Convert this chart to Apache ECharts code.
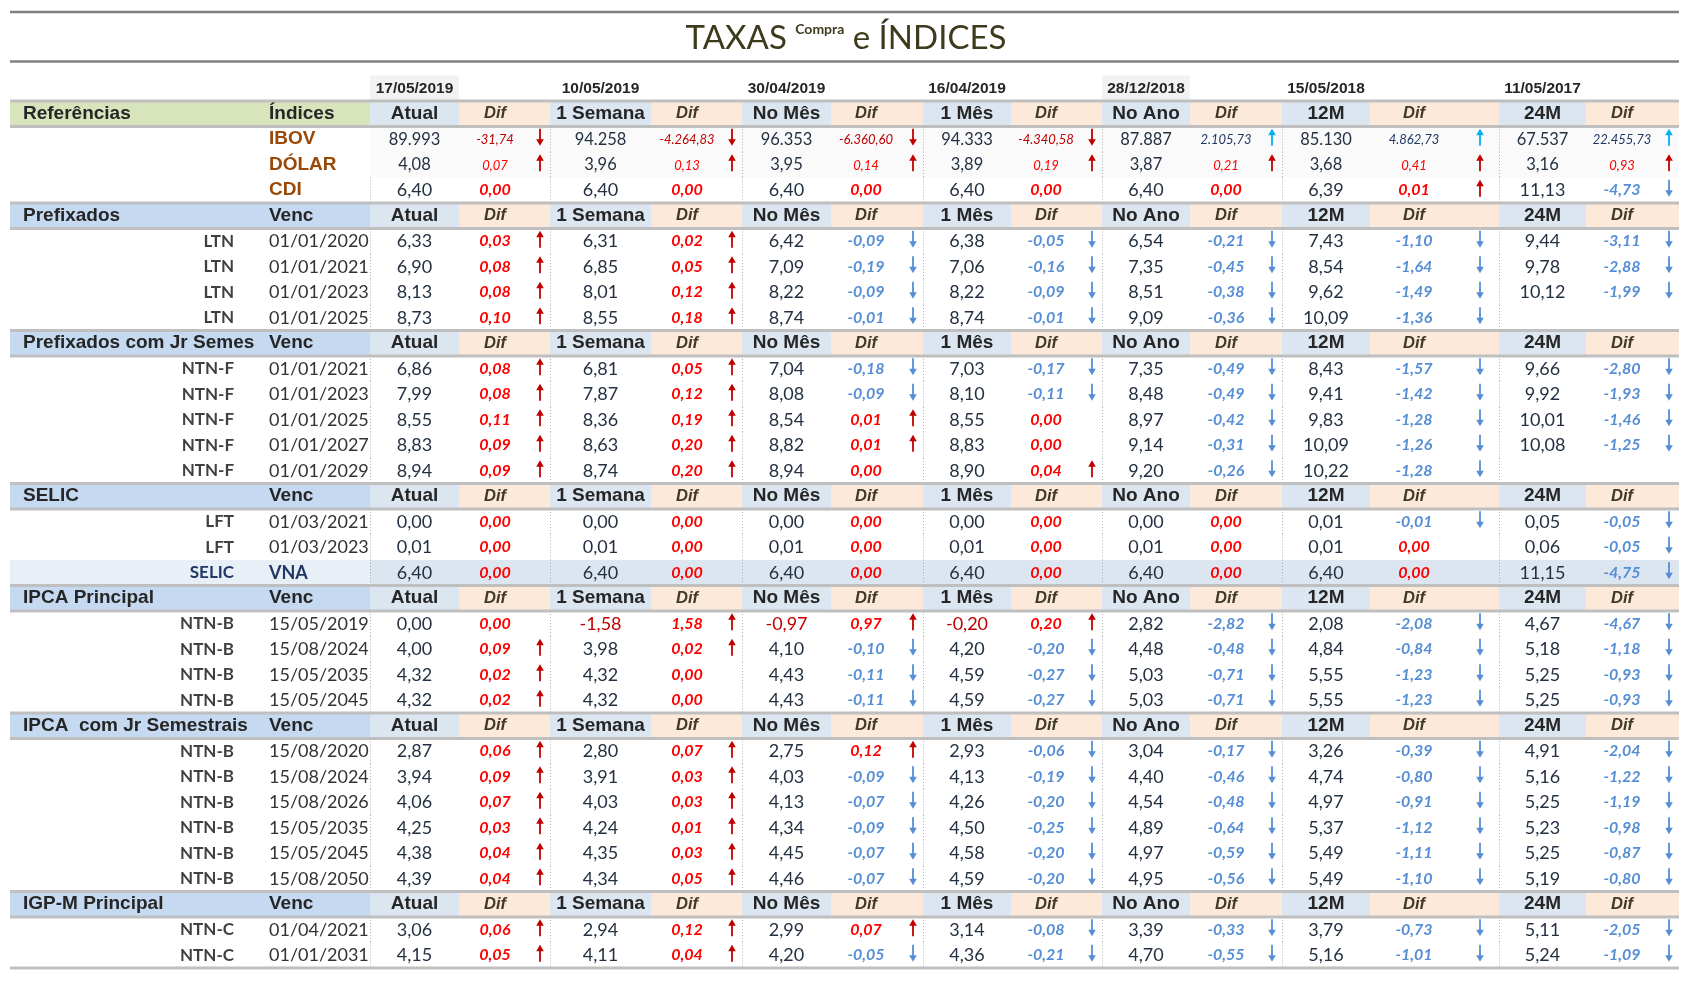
<!DOCTYPE html>
<html><head><meta charset="utf-8">
<script src="https://cdn.jsdelivr.net/npm/echarts@6/dist/echarts.min.js"></script>
<style>html,body{margin:0;padding:0;background:#fff}#c{width:1692px;height:982px}</style>
</head><body><div id="c"></div>
<script>
// ---------------- DATA ----------------
const dates = ['17/05/2019','10/05/2019','30/04/2019','16/04/2019','28/12/2018','15/05/2018','11/05/2017'];
const periods = ['Atual','1 Semana','No Mês','1 Mês','No Ano','12M','24M'];
const sectionTitles = ['Referências','Prefixados','Prefixados com Jr Semestrais','SELIC','IPCA Principal','IPCA  com Jr Semestrais','IGP-M Principal'];
const sectionSubLabels = ['Índices','Venc','Venc','Venc','Venc','Venc','Venc'];
const difLabel = 'Dif';

const refNames = ['IBOV','DÓLAR','CDI'];
const refValues = [
  [89993, 94258, 96353, 94333, 87887, 85130, 67537],
  [4.08, 3.96, 3.95, 3.89, 3.87, 3.68, 3.16],
  [6.40, 6.40, 6.40, 6.40, 6.40, 6.39, 11.13]
];
const refDifs = [
  [-31.74, -4264.83, -6360.60, -4340.58, 2105.73, 4862.73, 22455.73],
  [0.07, 0.13, 0.14, 0.19, 0.21, 0.41, 0.93],
  [0.00, 0.00, 0.00, 0.00, 0.00, 0.01, -4.73]
];

const ltnNames = ['LTN','LTN','LTN','LTN'];
const ltnVenc = ['01/01/2020','01/01/2021','01/01/2023','01/01/2025'];
const ltnValues = [
  [6.33, 6.31, 6.42, 6.38, 6.54, 7.43, 9.44],
  [6.90, 6.85, 7.09, 7.06, 7.35, 8.54, 9.78],
  [8.13, 8.01, 8.22, 8.22, 8.51, 9.62, 10.12],
  [8.73, 8.55, 8.74, 8.74, 9.09, 10.09, null]
];
const ltnDifs = [
  [0.03, 0.02, -0.09, -0.05, -0.21, -1.10, -3.11],
  [0.08, 0.05, -0.19, -0.16, -0.45, -1.64, -2.88],
  [0.08, 0.12, -0.09, -0.09, -0.38, -1.49, -1.99],
  [0.10, 0.18, -0.01, -0.01, -0.36, -1.36, null]
];

const ntnfNames = ['NTN-F','NTN-F','NTN-F','NTN-F','NTN-F'];
const ntnfVenc = ['01/01/2021','01/01/2023','01/01/2025','01/01/2027','01/01/2029'];
const ntnfValues = [
  [6.86, 6.81, 7.04, 7.03, 7.35, 8.43, 9.66],
  [7.99, 7.87, 8.08, 8.10, 8.48, 9.41, 9.92],
  [8.55, 8.36, 8.54, 8.55, 8.97, 9.83, 10.01],
  [8.83, 8.63, 8.82, 8.83, 9.14, 10.09, 10.08],
  [8.94, 8.74, 8.94, 8.90, 9.20, 10.22, null]
];
const ntnfDifs = [
  [0.08, 0.05, -0.18, -0.17, -0.49, -1.57, -2.80],
  [0.08, 0.12, -0.09, -0.11, -0.49, -1.42, -1.93],
  [0.11, 0.19, 0.01, 0.00, -0.42, -1.28, -1.46],
  [0.09, 0.20, 0.01, 0.00, -0.31, -1.26, -1.25],
  [0.09, 0.20, 0.00, 0.04, -0.26, -1.28, null]
];

const selicNames = ['LFT','LFT','SELIC'];
const selicVenc = ['01/03/2021','01/03/2023','VNA'];
const selicValues = [
  [0.00, 0.00, 0.00, 0.00, 0.00, 0.01, 0.05],
  [0.01, 0.01, 0.01, 0.01, 0.01, 0.01, 0.06],
  [6.40, 6.40, 6.40, 6.40, 6.40, 6.40, 11.15]
];
const selicDifs = [
  [0.00, 0.00, 0.00, 0.00, 0.00, -0.01, -0.05],
  [0.00, 0.00, 0.00, 0.00, 0.00, 0.00, -0.05],
  [0.00, 0.00, 0.00, 0.00, 0.00, 0.00, -4.75]
];

const ipcaNames = ['NTN-B','NTN-B','NTN-B','NTN-B'];
const ipcaVenc = ['15/05/2019','15/08/2024','15/05/2035','15/05/2045'];
const ipcaValues = [
  [0.00, -1.58, -0.97, -0.20, 2.82, 2.08, 4.67],
  [4.00, 3.98, 4.10, 4.20, 4.48, 4.84, 5.18],
  [4.32, 4.32, 4.43, 4.59, 5.03, 5.55, 5.25],
  [4.32, 4.32, 4.43, 4.59, 5.03, 5.55, 5.25]
];
const ipcaDifs = [
  [0.00, 1.58, 0.97, 0.20, -2.82, -2.08, -4.67],
  [0.09, 0.02, -0.10, -0.20, -0.48, -0.84, -1.18],
  [0.02, 0.00, -0.11, -0.27, -0.71, -1.23, -0.93],
  [0.02, 0.00, -0.11, -0.27, -0.71, -1.23, -0.93]
];

const ipcaJrNames = ['NTN-B','NTN-B','NTN-B','NTN-B','NTN-B','NTN-B'];
const ipcaJrVenc = ['15/08/2020','15/08/2024','15/08/2026','15/05/2035','15/05/2045','15/08/2050'];
const ipcaJrValues = [
  [2.87, 2.80, 2.75, 2.93, 3.04, 3.26, 4.91],
  [3.94, 3.91, 4.03, 4.13, 4.40, 4.74, 5.16],
  [4.06, 4.03, 4.13, 4.26, 4.54, 4.97, 5.25],
  [4.25, 4.24, 4.34, 4.50, 4.89, 5.37, 5.23],
  [4.38, 4.35, 4.45, 4.58, 4.97, 5.49, 5.25],
  [4.39, 4.34, 4.46, 4.59, 4.95, 5.49, 5.19]
];
const ipcaJrDifs = [
  [0.06, 0.07, 0.12, -0.06, -0.17, -0.39, -2.04],
  [0.09, 0.03, -0.09, -0.19, -0.46, -0.80, -1.22],
  [0.07, 0.03, -0.07, -0.20, -0.48, -0.91, -1.19],
  [0.03, 0.01, -0.09, -0.25, -0.64, -1.12, -0.98],
  [0.04, 0.03, -0.07, -0.20, -0.59, -1.11, -0.87],
  [0.04, 0.05, -0.07, -0.20, -0.56, -1.10, -0.80]
];

const igpmNames = ['NTN-C','NTN-C'];
const igpmVenc = ['01/04/2021','01/01/2031'];
const igpmValues = [
  [3.06, 2.94, 2.99, 3.14, 3.39, 3.79, 5.11],
  [4.15, 4.11, 4.20, 4.36, 4.70, 5.16, 5.24]
];
const igpmDifs = [
  [0.06, 0.12, 0.07, -0.08, -0.33, -0.73, -2.05],
  [0.05, 0.04, -0.05, -0.21, -0.55, -1.01, -1.09]
];

// ---------------- LAYOUT (positions / styles) ----------------
const X_LEFT = 10, X_RIGHT = 1679, X_SPLIT = 370;
const X_TITLE = 23, X_SUB = 269, X_NAME_R = 234;
const periodEdges = [[370,459],[550,651],[742,831],[923,1011],[1102,1190],[1282,1370],[1499,1586]];
const difEdges = [[459,550],[651,742],[831,923],[1011,1102],[1190,1282],[1370,1499],[1586,1679]];
const difTextX = [495,687,866,1046,1226,1414,1622];
const arrowX = [540,732,913,1092,1272,1480,1669];
const vDots = [370,550,742,923,1102,1282,1499];
const dateShaded = [0,4];

const HEAD_FONT = 'Liberation Sans, Arial, sans-serif';
const BODY_FONT = 'Lato, Noto Sans, sans-serif';
const C_VAL = '#243142', C_NEG = '#c00000', C_RED = '#ff0000', C_BLUE = '#558ed5', C_DKRED = '#c00000', C_CYAN = '#00b0f0';

const sections = [
  {names: refNames, venc: null, values: refValues, difs: refDifs, ref: true},
  {names: ltnNames, venc: ltnVenc, values: ltnValues, difs: ltnDifs},
  {names: ntnfNames, venc: ntnfVenc, values: ntnfValues, difs: ntnfDifs},
  {names: selicNames, venc: selicVenc, values: selicValues, difs: selicDifs},
  {names: ipcaNames, venc: ipcaVenc, values: ipcaValues, difs: ipcaDifs},
  {names: ipcaJrNames, venc: ipcaJrVenc, values: ipcaJrValues, difs: ipcaJrDifs},
  {names: igpmNames, venc: igpmVenc, values: igpmValues, difs: igpmDifs}
];

function fmt(v, d) {
  const neg = v < 0;
  const s = Math.abs(v).toFixed(d);
  let [i, f] = s.split('.');
  i = i.replace(/\B(?=(\d{3})+(?!\d))/g, '.');
  return (neg ? '-' : '') + i + (f ? ',' + f : '');
}

// ---------------- BUILD CELLS ----------------
const bg = [], lines = [], texts = [], arrows = [];
const rowKeys = ['dates'];
function txt(row, x, text, align, o) {
  texts.push(Object.assign({t: 'text', x0: x, x1: x, row, text, align}, o));
}
dates.forEach((d, i) => {
  const [a, b] = periodEdges[i];
  if (dateShaded.includes(i)) bg.push({t: 'rect', x0: a, x1: b, row: 0, fill: '#f2f2f2'});
  txt(0, (a + b) / 2, d, 'center', {size: 15.5, family: HEAD_FONT, weight: 'bold', color: '#262626'});
});

let r = 0;
sections.forEach((s, si) => {
  r++; rowKeys.push('h' + si);
  const hr = r;
  bg.push({t: 'rect', x0: X_LEFT, x1: X_SPLIT, row: hr, fill: s.ref ? '#d8e4bc' : '#c5d9f1'});
  periodEdges.forEach(([a, b]) => bg.push({t: 'rect', x0: a, x1: b, row: hr, fill: '#dce6f1'}));
  difEdges.forEach(([a, b]) => bg.push({t: 'rect', x0: a, x1: b, row: hr, fill: '#fde9d9'}));
  lines.push({t: 'hline', x0: X_LEFT, x1: X_RIGHT, row: hr, edge: 'top', color: '#bfbfbf', w: 3});
  lines.push({t: 'hline', x0: X_LEFT, x1: X_RIGHT, row: hr, edge: 'bottom', color: '#bfbfbf', w: 3});
  txt(hr, X_TITLE, sectionTitles[si], 'left', {size: 19, family: HEAD_FONT, weight: 'bold', color: '#262626', width: 238, truncate: true});
  txt(hr, X_SUB, sectionSubLabels[si], 'left', {size: 19, family: HEAD_FONT, weight: 'bold', color: '#262626'});
  periods.forEach((p, i) => {
    const [a, b] = periodEdges[i];
    txt(hr, (a + b) / 2, p, 'center', {size: 19, family: HEAD_FONT, weight: 'bold', color: '#262626'});
    txt(hr, difTextX[i], difLabel, 'center', {size: 16.5, family: HEAD_FONT, weight: 'bold', style: 'italic', color: '#3f3a22'});
  });

  s.names.forEach((name, j) => {
    r++; rowKeys.push('r' + si + '_' + j);
    const row = r;
    const small = s.ref && j < 2;
    const isVna = s.venc && s.venc[j] === 'VNA';
    if (small) bg.push({t: 'rect', x0: X_SPLIT, x1: X_RIGHT, row, fill: '#fafafa'});
    if (isVna) {
      bg.push({t: 'rect', x0: X_LEFT, x1: X_SPLIT, row, fill: '#e9eff7'});
      bg.push({t: 'rect', x0: X_SPLIT, x1: X_RIGHT, row, fill: '#dce6f1'});
    }
    vDots.forEach(x => { if (!(small && x === X_SPLIT)) lines.push({t: 'vline', x0: x, x1: x, row}); });
    if (s.ref) {
      txt(row, X_SUB, name, 'left', {size: 19, family: HEAD_FONT, weight: 'bold', color: '#984807'});
    } else {
      const col = isVna ? '#1f3864' : '#404040';
      txt(row, X_NAME_R, name, 'right', {size: 17, family: BODY_FONT, weight: 'bold', color: col});
      txt(row, X_SUB, s.venc[j], 'left', {size: 18, family: BODY_FONT, weight: isVna ? 'bold' : 'normal', color: isVna ? '#1f3864' : '#333333'});
    }
    const dec = (s.ref && j === 0) ? 0 : 2;
    s.values[j].forEach((v, i) => {
      if (v === null) return;
      const [a, b] = periodEdges[i];
      txt(row, (a + b) / 2, fmt(v, dec), 'center', {size: small ? 16.5 : 18, family: BODY_FONT, weight: 'normal', color: v < 0 ? C_NEG : C_VAL});
    });
    s.difs[j].forEach((d, i) => {
      if (d === null) return;
      let color, aColor = null;
      if (small) {
        if (j === 0) { color = d < 0 ? C_DKRED : '#203864'; aColor = d < 0 ? C_DKRED : C_CYAN; }
        else { color = C_RED; aColor = d < 0 ? C_BLUE : C_DKRED; }
        txt(row, difTextX[i], fmt(d, 2), 'center', {size: 13, family: BODY_FONT, weight: 'normal', style: 'italic', color, dy: 1});
      } else {
        color = d < 0 ? C_BLUE : C_RED;
        aColor = d > 0 ? C_DKRED : (d < 0 ? C_BLUE : null);
        txt(row, difTextX[i], fmt(d, 2), 'center', {size: 16, family: BODY_FONT, weight: 'bold', style: 'italic', color});
      }
      if (d !== 0 && aColor) arrows.push({t: 'arrow', x0: arrowX[i], x1: arrowX[i], row, up: d > 0, color: aColor});
    });
  });
});
lines.push({t: 'hline', x0: X_LEFT, x1: X_RIGHT, row: r, edge: 'bottom', color: '#bfbfbf', w: 3});

const cells = bg.concat(lines, texts, arrows);

function renderItem(params, api) {
  const c = cells[api.value(3)];
  const a = api.coord([c.x0, c.row]);
  const b = api.coord([c.x1, c.row]);
  const h = api.size([0, 1])[1];
  const top = a[1] - h / 2, cy = a[1];
  if (c.t === 'rect') {
    return {type: 'rect', shape: {x: a[0], y: top, width: b[0] - a[0], height: h}, style: {fill: c.fill}};
  }
  if (c.t === 'hline') {
    const y = c.edge === 'top' ? top : top + h;
    return {type: 'line', shape: {x1: a[0], y1: y, x2: b[0], y2: y}, style: {stroke: c.color, lineWidth: c.w}};
  }
  if (c.t === 'vline') {
    return {type: 'line', shape: {x1: a[0] + 0.5, y1: top, x2: a[0] + 0.5, y2: top + h}, style: {stroke: '#b0b0b0', lineWidth: 1, lineDash: [1, 2]}};
  }
  if (c.t === 'text') {
    const st = {text: c.text, x: a[0], y: cy + (c.dy || 0), align: c.align, verticalAlign: 'middle',
      fontSize: c.size, fontFamily: c.family, fontWeight: c.weight || 'normal', fontStyle: c.style || 'normal', fill: c.color};
    if (c.truncate) { st.width = c.width; st.overflow = 'truncate'; st.ellipsis = ''; }
    return {type: 'text', style: st};
  }
  if (c.t === 'arrow') {
    const x = a[0], yT = cy - 10.5, yB = cy + 6.5;
    const tipY = c.up ? yT : yB;
    const baseY = c.up ? yT + 6.5 : yB - 6.5;
    return {type: 'group', children: [
      {type: 'line', shape: {x1: x, y1: c.up ? yB : yT, x2: x, y2: c.up ? yT + 3 : yB - 3}, style: {stroke: c.color, lineWidth: 1.8}},
      {type: 'polygon', shape: {points: [[x - 3.8, baseY], [x, tipY], [x + 3.8, baseY]]}, style: {fill: c.color}}
    ]};
  }
  return null;
}

const chart = echarts.init(document.getElementById('c'));
chart.setOption({
  animation: false,
  backgroundColor: '#ffffff',
  title: {
    text: '{a|TAXAS }{s|Compra}{a| e ÍNDICES}',
    left: 'center', top: 22, padding: 0,
    textStyle: {
      rich: {
        a: {fontSize: 33, fontFamily: BODY_FONT, color: '#3d3a1e', fontWeight: 'normal'},
        s: {fontSize: 14, fontFamily: BODY_FONT, color: '#3d3a1e', verticalAlign: 'top'}
      }
    }
  },
  graphic: [
    {type: 'line', shape: {x1: X_LEFT, y1: 12, x2: X_RIGHT, y2: 12}, style: {stroke: '#808080', lineWidth: 2.5}},
    {type: 'line', shape: {x1: X_LEFT, y1: 61.5, x2: X_RIGHT, y2: 61.5}, style: {stroke: '#808080', lineWidth: 2.5}}
  ],
  grid: {left: 0, right: 0, top: 75.5, height: 25.5 * rowKeys.length, containLabel: false},
  xAxis: {type: 'value', min: 0, max: 1692, show: false},
  yAxis: {type: 'category', data: rowKeys, inverse: true, show: false},
  series: [{
    type: 'custom',
    renderItem,
    clip: false,
    encode: {x: [0, 2], y: 1},
    data: cells.map((c, i) => [c.x0, c.row, c.x1, i]),
    silent: true
  }]
});
</script>
</body></html>
